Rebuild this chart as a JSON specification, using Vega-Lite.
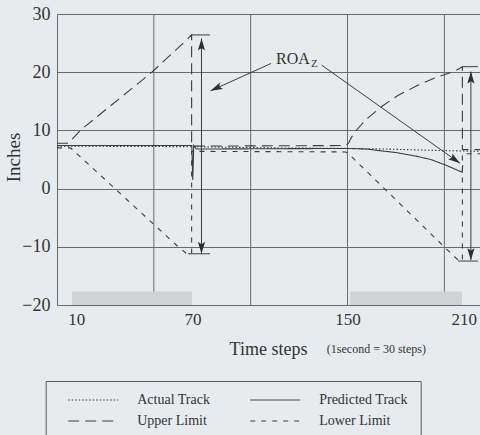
{
  "$schema": "https://vega.github.io/schema/vega-lite/v6.json",
  "width": 423,
  "height": 291,
  "autosize": {"type": "none"},
  "padding": {"left": 57, "top": 14, "right": 0, "bottom": 130},
  "background": "#e8ebee",
  "config": {
    "view": {"stroke": null},
    "font": "Liberation Serif",
    "axisX": {"grid": false, "domainColor": "#6a6a6a", "ticks": false, "labelFontSize": 17, "labelColor": "#333", "labelPadding": 6, "labelFlush": false, "titleFontSize": 18, "titleFontWeight": "normal", "titleColor": "#333", "titleX": 211, "titleY": 49, "titleBaseline": "alphabetic", "titleAlign": "center", "zindex": 1},
    "axisY": {"grid": true, "gridColor": "#6a6a6a", "gridOpacity": 1, "gridWidth": 1, "domainColor": "#6a6a6a", "ticks": false, "labelFontSize": 18, "labelColor": "#333", "labelPadding": 7, "titleFontSize": 19, "titleFontWeight": "normal", "titleColor": "#333", "titleX": -38, "titleY": 143, "titleBaseline": "alphabetic", "zindex": 1}
  },
  "datasets": {
    "vgrid": [{"step": 50}, {"step": 100}, {"step": 150}, {"step": 200}],
    "bars": [
      {"step": 7.7, "step2": 69.7, "value": -20, "value2": -17.7},
      {"step": 151.3, "step2": 209.1, "value": -20, "value2": -17.7}
    ],
    "tracks": [
      {"series": "Actual Track", "step": 0, "value": 7.3},
      {"series": "Actual Track", "step": 70, "value": 7.2},
      {"series": "Actual Track", "step": 110, "value": 7.0},
      {"series": "Actual Track", "step": 150, "value": 6.9},
      {"series": "Actual Track", "step": 170, "value": 6.8},
      {"series": "Actual Track", "step": 190, "value": 6.6},
      {"series": "Actual Track", "step": 218.4, "value": 6.4},
      {"series": "Predicted Track", "step": 0, "value": 7.4},
      {"series": "Predicted Track", "step": 69.6, "value": 7.4},
      {"series": "Predicted Track", "step": 70.1, "value": 1.5},
      {"series": "Predicted Track", "step": 70.6, "value": 7.4},
      {"series": "Predicted Track", "step": 72, "value": 6.8},
      {"series": "Predicted Track", "step": 150, "value": 6.9},
      {"series": "Predicted Track", "step": 160, "value": 6.8},
      {"series": "Predicted Track", "step": 167, "value": 6.5},
      {"series": "Predicted Track", "step": 175, "value": 6.2},
      {"series": "Predicted Track", "step": 185, "value": 5.6},
      {"series": "Predicted Track", "step": 193, "value": 5.0},
      {"series": "Predicted Track", "step": 201, "value": 4.0},
      {"series": "Predicted Track", "step": 209.2, "value": 2.8},
      {"series": "Predicted Track", "step": 209.5, "value": 4.0},
      {"series": "Upper Limit", "step": 0, "value": 7.8},
      {"series": "Upper Limit", "step": 6, "value": 7.8},
      {"series": "Upper Limit", "step": 12, "value": 10.0},
      {"series": "Upper Limit", "step": 49, "value": 20.0},
      {"series": "Upper Limit", "step": 66.5, "value": 25.4},
      {"series": "Upper Limit", "step": 69.5, "value": 26.4},
      {"series": "Upper Limit", "step": 69.5, "value": 7.3},
      {"series": "Upper Limit", "step": 149, "value": 7.4},
      {"series": "Upper Limit", "step": 150.5, "value": 7.8},
      {"series": "Upper Limit", "step": 152, "value": 8.8},
      {"series": "Upper Limit", "step": 155, "value": 10.2},
      {"series": "Upper Limit", "step": 160, "value": 12.0},
      {"series": "Upper Limit", "step": 168, "value": 14.2},
      {"series": "Upper Limit", "step": 176, "value": 16.0},
      {"series": "Upper Limit", "step": 186, "value": 17.7},
      {"series": "Upper Limit", "step": 195, "value": 19.0},
      {"series": "Upper Limit", "step": 205.5, "value": 20.2},
      {"series": "Upper Limit", "step": 209.3, "value": 20.95},
      {"series": "Upper Limit", "step": 209.3, "value": 6.7},
      {"series": "Upper Limit", "step": 218.4, "value": 6.7},
      {"series": "Lower Limit", "step": 0, "value": 7.0},
      {"series": "Lower Limit", "step": 7, "value": 7.0},
      {"series": "Lower Limit", "step": 29.9, "value": 0},
      {"series": "Lower Limit", "step": 62.6, "value": -10},
      {"series": "Lower Limit", "step": 67, "value": -11.2},
      {"series": "Lower Limit", "step": 69.5, "value": -11.2},
      {"series": "Lower Limit", "step": 69.5, "value": 6.4},
      {"series": "Lower Limit", "step": 149, "value": 6.3},
      {"series": "Lower Limit", "step": 150.5, "value": 6.0},
      {"series": "Lower Limit", "step": 203, "value": -11.0},
      {"series": "Lower Limit", "step": 207.5, "value": -12.4},
      {"series": "Lower Limit", "step": 209.3, "value": -12.4},
      {"series": "Lower Limit", "step": 209.3, "value": 6.0},
      {"series": "Lower Limit", "step": 218.4, "value": 6.0}
    ],
    "segments": [
      {"step": 74.6, "value": 25.8, "step2": 74.6, "value2": -11.2},
      {"step": 213.7, "value": 20.1, "step2": 213.7, "value2": -12.3},
      {"step": 69.5, "value": 26.4, "step2": 79, "value2": 26.4},
      {"step": 67.7, "value": -11.2, "step2": 79, "value2": -11.2},
      {"step": 209.3, "value": 20.95, "step2": 217.3, "value2": 20.95},
      {"step": 207, "value": -12.45, "step2": 217.3, "value2": -12.45},
      {"step": 110.5, "value": 21.5, "step2": 79.3, "value2": 16.8},
      {"step": 136.7, "value": 21.2, "step2": 208.1, "value2": 4.35}
    ],
    "heads": [
      {"step": 74.6, "value": 25.8, "angle": 0},
      {"step": 74.6, "value": -11.2, "angle": 180},
      {"step": 213.7, "value": 20.1, "angle": 0},
      {"step": 213.7, "value": -12.3, "angle": 180},
      {"step": 79.3, "value": 16.8, "angle": 245},
      {"step": 208.1, "value": 4.35, "angle": 125}
    ],
    "bigtext": [{"step": 113.1, "value": 21.4, "label": "ROA"}],
    "subtext": [{"step": 131.2, "value": 20.9, "label": "Z"}],
    "note": [{"step": 164.9, "value": -28.25, "label": "(1second = 30 steps)"}]
  },
  "layer": [
    {
      "data": {"name": "vgrid"},
      "mark": {"type": "rule", "stroke": "#6a6a6a", "strokeWidth": 1},
      "encoding": {
        "x": {"field": "step", "type": "quantitative", "title": "Time steps", "scale": {"domain": [0, 218.4], "nice": false, "zero": false}, "axis": {"values": [10, 70, 150, 210]}}
      }
    },
    {
      "data": {"name": "bars"},
      "mark": {"type": "rect", "fill": "#d0d3d5"},
      "encoding": {
        "x": {"field": "step", "type": "quantitative", "title": "Time steps", "scale": {"domain": [0, 218.4], "nice": false, "zero": false}},
        "x2": {"field": "step2"},
        "y": {"field": "value", "type": "quantitative", "title": "Inches", "scale": {"domain": [-20, 30], "nice": false, "zero": false}, "axis": {"values": [-20, -10, 0, 10, 20, 30]}},
        "y2": {"field": "value2"}
      }
    },
    {
      "data": {"name": "tracks"},
      "mark": {"type": "line", "stroke": "#3c3c3c", "strokeWidth": 1.1},
      "encoding": {
        "x": {"field": "step", "type": "quantitative", "title": "Time steps", "scale": {"domain": [0, 218.4], "nice": false, "zero": false}},
        "y": {"field": "value", "type": "quantitative", "title": "Inches", "scale": {"domain": [-20, 30], "nice": false, "zero": false}},
        "order": {"value": null},
        "strokeDash": {
          "field": "series", "type": "nominal",
          "scale": {"domain": ["Actual Track", "Upper Limit", "Predicted Track", "Lower Limit"], "range": [[1.5, 2], [11, 6], [1, 0], [5, 6]]},
          "legend": {"orient": "none", "legendX": -11.3, "legendY": 367, "columns": 2, "title": null, "symbolType": "stroke", "symbolSize": 2500, "symbolStrokeWidth": 1, "symbolStrokeColor": "#3c3c3c", "clipHeight": 14, "labelFontSize": 14, "labelFont": "Liberation Serif", "labelColor": "#333", "labelOffset": 18.5, "symbolOffset": 10, "padding": 12, "strokeColor": "#5a5a5a", "rowPadding": 7, "columnPadding": 29}
        }
      }
    },
    {
      "data": {"name": "segments"},
      "mark": {"type": "rule", "stroke": "#3c3c3c", "strokeWidth": 1},
      "encoding": {
        "x": {"field": "step", "type": "quantitative", "title": "Time steps", "scale": {"domain": [0, 218.4], "nice": false, "zero": false}},
        "x2": {"field": "step2"},
        "y": {"field": "value", "type": "quantitative", "title": "Inches", "scale": {"domain": [-20, 30], "nice": false, "zero": false}},
        "y2": {"field": "value2"}
      }
    },
    {
      "data": {"name": "heads"},
      "mark": {"type": "point", "shape": "M0,0L-0.6,2L0,1.6L0.6,2Z", "filled": true, "fill": "#2e2e2e", "opacity": 1, "size": 144, "strokeWidth": 0},
      "encoding": {
        "x": {"field": "step", "type": "quantitative", "title": "Time steps", "scale": {"domain": [0, 218.4], "nice": false, "zero": false}},
        "y": {"field": "value", "type": "quantitative", "title": "Inches", "scale": {"domain": [-20, 30], "nice": false, "zero": false}},
        "angle": {"field": "angle", "type": "quantitative", "scale": null}
      }
    },
    {
      "data": {"name": "bigtext"},
      "mark": {"type": "text", "fontSize": 16, "align": "left", "baseline": "alphabetic", "color": "#333", "font": "Liberation Serif"},
      "encoding": {
        "x": {"field": "step", "type": "quantitative", "title": "Time steps", "scale": {"domain": [0, 218.4], "nice": false, "zero": false}},
        "y": {"field": "value", "type": "quantitative", "title": "Inches", "scale": {"domain": [-20, 30], "nice": false, "zero": false}},
        "text": {"field": "label"}
      }
    },
    {
      "data": {"name": "subtext"},
      "mark": {"type": "text", "fontSize": 11, "align": "left", "baseline": "alphabetic", "color": "#333", "font": "Liberation Serif"},
      "encoding": {
        "x": {"field": "step", "type": "quantitative", "title": "Time steps", "scale": {"domain": [0, 218.4], "nice": false, "zero": false}},
        "y": {"field": "value", "type": "quantitative", "title": "Inches", "scale": {"domain": [-20, 30], "nice": false, "zero": false}},
        "text": {"field": "label"}
      }
    },
    {
      "data": {"name": "note"},
      "mark": {"type": "text", "fontSize": 12, "align": "center", "baseline": "alphabetic", "color": "#333", "font": "Liberation Serif"},
      "encoding": {
        "x": {"field": "step", "type": "quantitative", "title": "Time steps", "scale": {"domain": [0, 218.4], "nice": false, "zero": false}},
        "y": {"field": "value", "type": "quantitative", "title": "Inches", "scale": {"domain": [-20, 30], "nice": false, "zero": false}},
        "text": {"field": "label"}
      }
    }
  ]
}
